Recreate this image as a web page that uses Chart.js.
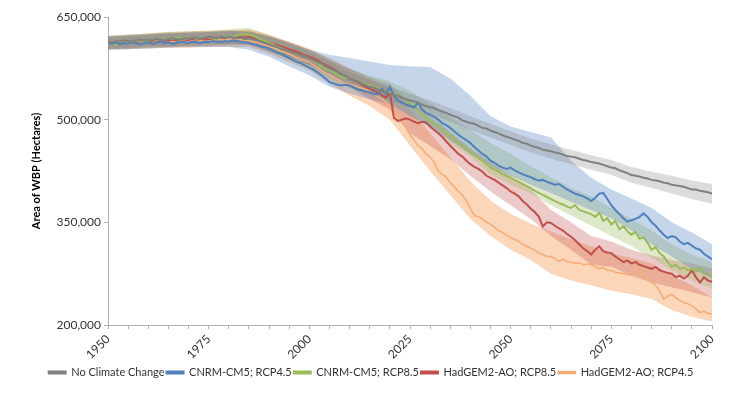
<!DOCTYPE html>
<html>
<head>
<meta charset="utf-8">
<script src="https://cdn.jsdelivr.net/npm/chart.js@4.4.1/dist/chart.umd.min.js"></script>
<style>
  html, body { margin: 0; padding: 0; background: #fff; }
  #wrap { width: 752px; height: 398px; }
</style>
</head>
<body>
<div id="wrap"><canvas id="wbpChart"></canvas></div>
<script>
// --- DATA (area in thousands of hectares) ---
const startYear = 1950;
const endYear = 2100;
const years = Array.from({ length: endYear - startYear + 1 }, (_, i) => startYear + i);
const bandYears = [1950, 1955, 1960, 1965, 1970, 1975, 1980, 1985, 1990, 1995, 2000, 2005, 2010, 2015, 2020,
    2025, 2030, 2035, 2040, 2045, 2050, 2055, 2060, 2065, 2070, 2075, 2080, 2085, 2090, 2095, 2100];
const yTicks = [200000, 350000, 500000, 650000];
const xLabelYears = [1950, 1975, 2000, 2025, 2050, 2075, 2100];

const seriesNames = ['No Climate Change', 'CNRM-CM5; RCP4.5', 'CNRM-CM5; RCP8.5', 'HadGEM2-AO; RCP8.5', 'HadGEM2-AO; RCP4.5'];

const noChange = [
    614, 613, 615, 614, 616, 615, 614, 616, 617, 616,
    617, 616, 618, 617, 616, 618, 619, 618, 617, 619,
    618, 620, 619, 618, 620, 621, 620, 619, 621, 620,
    621, 620, 619, 620, 618, 619, 617, 616, 614, 612,
    610, 608, 606, 604, 602, 600, 598, 596, 594, 592,
    590, 587, 584, 582, 578, 575, 573, 569, 566, 564,
    560, 558, 556, 553, 550, 548, 547, 544, 542, 540,
    538, 536, 535, 532, 530, 528, 527, 524, 522, 520,
    518, 517, 514, 512, 510, 507, 505, 503, 499, 497,
    495, 494, 491, 488, 487, 484, 482, 480, 477, 475,
    473, 471, 469, 466, 465, 462, 460, 459, 456, 455,
    454, 452, 451, 449, 447, 446, 445, 443, 441, 440,
    438, 437, 436, 434, 432, 430, 429, 426, 424, 422,
    419, 418, 417, 415, 414, 412, 411, 410, 408, 407,
    405, 404, 403, 402, 400, 398, 398, 396, 395, 394,
    392
];
const cnrm45 = [
    612, 611, 613, 610, 612, 611, 613, 612, 610, 612,
    613, 611, 612, 614, 612, 613, 611, 612, 614, 613,
    612, 614, 613, 612, 614, 613, 615, 614, 613, 615,
    614, 616, 615, 614, 613, 612, 610, 609, 607, 606,
    604, 601, 598, 596, 593, 590, 587, 584, 582, 579,
    576, 573, 569, 565, 560, 555, 553, 551, 550, 551,
    550, 547, 544, 543, 541, 540, 538, 537, 545, 538,
    548, 535, 528, 525, 522, 520, 518, 525, 515, 510,
    507, 504, 500, 495, 492, 488, 483, 478, 474, 470,
    466, 460, 455, 450, 446, 440, 437, 433, 430, 428,
    430, 426, 423, 420, 418, 416, 413, 411, 412, 409,
    407, 405, 406, 402, 398, 395, 392, 390, 388, 385,
    381, 386, 392, 393, 384, 375, 368, 362, 356, 351,
    353, 355, 358, 363, 358, 350, 345, 338, 332, 327,
    330, 328, 322, 318, 320, 316, 312, 310, 304, 300,
    296
];
const cnrm85 = [
    612, 611, 610, 612, 614, 613, 612, 615, 616, 614,
    615, 617, 616, 618, 617, 619, 618, 620, 619, 618,
    619, 620, 618, 619, 621, 620, 619, 618, 620, 621,
    622, 621, 623, 624, 625, 624, 623, 620, 617, 615,
    612, 610, 607, 605, 602, 600, 598, 596, 594, 592,
    590, 586, 582, 578, 575, 572, 569, 566, 563, 561,
    560, 558, 556, 554, 552, 550, 548, 546, 543, 541,
    540, 538, 536, 533, 529, 525, 520, 514, 508, 503,
    498, 494, 490, 485, 480, 476, 471, 466, 462, 457,
    452, 448, 444, 440, 435, 430, 427, 424, 420, 418,
    415, 412, 409, 406, 403, 400, 396, 393, 390, 387,
    384, 381, 378, 376, 373, 371, 375, 368, 366, 364,
    362, 358, 364, 352, 356, 347, 352, 340, 344, 337,
    332, 336, 326, 328, 320, 310, 314, 305, 300, 292,
    285, 288, 282, 284, 280, 282, 278, 284, 276, 274,
    271
];
const hadgem85 = [
    612, 613, 611, 612, 613, 614, 612, 613, 615, 614,
    613, 615, 616, 614, 615, 616, 617, 616, 618, 617,
    616, 618, 617, 619, 618, 617, 619, 620, 619, 620,
    621, 620, 622, 621, 620, 621, 619, 618, 616, 614,
    612, 611, 609, 607, 605, 603, 601, 599, 596, 594,
    592, 590, 587, 583, 580, 577, 574, 570, 566, 563,
    560, 557, 555, 551, 548, 545, 542, 540, 536, 532,
    540, 503, 498, 500, 502, 500, 497, 495, 497, 496,
    490, 485, 480, 475, 468, 462, 456, 450, 446, 440,
    435, 431, 428, 424, 418, 415, 412, 408, 404, 400,
    395, 392, 388, 381, 376, 370, 365, 358, 344, 350,
    349, 345, 341, 338, 333, 329, 324, 318, 312, 308,
    303, 310, 315, 308, 306, 305, 300, 296, 292, 294,
    290, 292, 288, 286, 284, 282, 285, 280, 278, 276,
    275, 270, 272, 268, 272, 280, 270, 262, 270, 265,
    263
];
const hadgem45 = [
    611, 612, 610, 612, 613, 611, 612, 614, 613, 612,
    614, 613, 612, 614, 615, 613, 614, 616, 615, 614,
    615, 616, 614, 615, 617, 616, 615, 617, 618, 616,
    617, 618, 616, 617, 615, 616, 614, 613, 611, 609,
    607, 605, 603, 600, 598, 596, 593, 590, 588, 586,
    584, 580, 576, 572, 568, 566, 562, 559, 556, 553,
    552, 550, 548, 546, 544, 542, 538, 534, 530, 526,
    518, 512, 505, 497, 488, 478, 470, 462, 458, 450,
    445, 438, 425, 420, 416, 408, 402, 395, 390, 382,
    370, 360, 358, 355, 350, 347, 343, 338, 335, 331,
    328, 325, 322, 318, 315, 312, 309, 305, 303, 300,
    300, 297, 293, 296, 292, 292, 290, 291, 288, 289,
    288, 285, 282, 284, 280, 280, 277, 276, 275, 274,
    273, 275, 282, 271, 268, 262, 258, 250, 238, 242,
    245, 240, 236, 233, 231, 228, 224, 218, 220, 217,
    216
];

// uncertainty bands (upper / lower), every 5 years
const noChangeHi = [623, 624, 626, 627, 628, 629, 630, 629, 621, 611, 600, 585, 570, 558, 548, 538, 528, 517, 505, 494, 483, 472, 464, 456, 448, 441, 431, 424, 418, 411, 406];
const noChangeLo = [605, 604, 608, 607, 609, 611, 611, 609, 599, 589, 580, 565, 550, 538, 528, 518, 508, 497, 485, 474, 463, 452, 443, 435, 427, 419, 408, 400, 392, 384, 377];
const cnrm45Hi = [622, 623, 624, 626, 627, 628, 630, 628, 622, 612, 602, 595, 590, 585, 580, 578, 577, 560, 535, 505, 490, 482, 474, 440, 415, 398, 385, 371, 350, 335, 318];
const cnrm45Lo = [602, 603, 604, 605, 606, 606, 606, 602, 592, 578, 565, 548, 538, 530, 522, 505, 490, 470, 450, 432, 418, 405, 393, 380, 368, 356, 338, 318, 300, 282, 268];
const cnrm85Hi = [622, 624, 626, 628, 629, 630, 632, 634, 624, 612, 602, 586, 574, 564, 556, 542, 524, 504, 485, 466, 450, 432, 416, 400, 388, 371, 355, 338, 318, 303, 292];
const cnrm85Lo = [603, 604, 606, 607, 608, 609, 610, 612, 600, 588, 578, 560, 546, 536, 525, 508, 488, 466, 446, 420, 405, 392, 375, 360, 345, 330, 315, 298, 280, 265, 253];
const hadgem85Hi = [620, 622, 624, 626, 627, 628, 629, 630, 622, 614, 602, 590, 575, 562, 552, 525, 505, 482, 458, 438, 418, 398, 368, 350, 330, 322, 310, 302, 295, 290, 283];
const hadgem85Lo = [603, 604, 605, 606, 607, 608, 609, 610, 600, 592, 580, 565, 548, 530, 515, 480, 462, 442, 418, 395, 375, 355, 330, 310, 288, 285, 272, 262, 255, 248, 240];
const hadgem45Hi = [622, 624, 626, 628, 629, 630, 631, 632, 624, 614, 604, 588, 574, 560, 545, 515, 480, 445, 410, 382, 362, 348, 337, 325, 315, 305, 298, 290, 272, 258, 240];
const hadgem45Lo = [602, 603, 604, 605, 605, 606, 606, 606, 596, 584, 572, 552, 535, 520, 500, 462, 425, 390, 355, 330, 310, 295, 275, 265, 258, 250, 245, 238, 222, 212, 205];

// --- STYLE ---
const lineColors = ['#808080', '#4f81bd', '#9bbb59', '#c0504d', '#f5ad78'];
const bandColors = ['rgba(128,128,128,0.28)', 'rgba(79,129,189,0.32)', 'rgba(155,187,89,0.32)', 'rgba(192,80,77,0.30)', 'rgba(248,165,100,0.45)'];

const lineSeries = [noChange, cnrm45, cnrm85, hadgem85, hadgem45];
const bandSeries = [
    [noChangeHi, noChangeLo],
    [cnrm45Hi, cnrm45Lo],
    [cnrm85Hi, cnrm85Lo],
    [hadgem85Hi, hadgem85Lo],
    [hadgem45Hi, hadgem45Lo]
];

function toPoints(xs, vals) {
    return vals.map((v, i) => ({ x: xs[i], y: v * 1000 }));
}

const datasets = [];
lineSeries.forEach((vals, i) => {
    datasets.push({
        label: seriesNames[i],
        data: toPoints(years, vals),
        borderColor: lineColors[i],
        backgroundColor: lineColors[i],
        borderWidth: i === 4 ? 1.6 : 2,
        pointRadius: 0,
        tension: 0,
        fill: false,
        order: 0
    });
});
bandSeries.forEach(([hi, lo], i) => {
    datasets.push({
        label: '_band_hi',
        data: toPoints(bandYears, hi),
        borderWidth: 0,
        pointRadius: 0,
        backgroundColor: bandColors[i],
        fill: '+1',
        order: 1
    });
    datasets.push({
        label: '_band_lo',
        data: toPoints(bandYears, lo),
        borderWidth: 0,
        pointRadius: 0,
        fill: false,
        order: 1
    });
});

const font = 'Lato, "Open Sans", sans-serif';

new Chart(document.getElementById('wbpChart'), {
    type: 'line',
    data: { datasets },
    options: {
        responsive: true,
        maintainAspectRatio: false,
        animation: false,
        layout: { padding: { top: 17, right: 40, bottom: 10, left: 30 } },
        plugins: {
            tooltip: { enabled: false },
            legend: {
                position: 'bottom',
                labels: {
                    filter: item => !item.text.startsWith('_'),
                    boxWidth: 17,
                    boxHeight: 2,
                    padding: 2,
                    color: '#333',
                    font: { family: font, size: 11 }
                }
            }
        },
        scales: {
            x: {
                type: 'linear',
                min: startYear,
                max: endYear,
                afterBuildTicks: scale => {
                    scale.ticks = [];
                    for (let y = startYear; y <= endYear; y += 5) scale.ticks.push({ value: y });
                },
                afterFit: scale => { scale.height = 40; },
                ticks: {
                    autoSkip: false,
                    minRotation: 45,
                    maxRotation: 45,
                    color: '#333',
                    font: { family: font, size: 12 },
                    callback: v => xLabelYears.includes(v) ? String(v) : ''
                },
                grid: { drawOnChartArea: false, drawTicks: true, tickLength: 4, color: '#b0b0b0' },
                border: { color: '#b0b0b0' }
            },
            y: {
                min: 200000,
                max: 650000,
                afterBuildTicks: scale => { scale.ticks = yTicks.map(v => ({ value: v })); },
                afterFit: scale => { scale.width = 78; },
                ticks: {
                    color: '#333',
                    font: { family: font, size: 12 },
                    callback: v => v.toLocaleString('en-US')
                },
                grid: { drawOnChartArea: false, drawTicks: true, tickLength: 4, color: '#b0b0b0' },
                border: { color: '#b0b0b0' },
                title: {
                    display: true,
                    text: 'Area of WBP (Hectares)',
                    color: '#000',
                    font: { family: font, size: 11, weight: 'bold' },
                    padding: { top: 0, bottom: 6 }
                }
            }
        }
    }
});
</script>
</body>
</html>
